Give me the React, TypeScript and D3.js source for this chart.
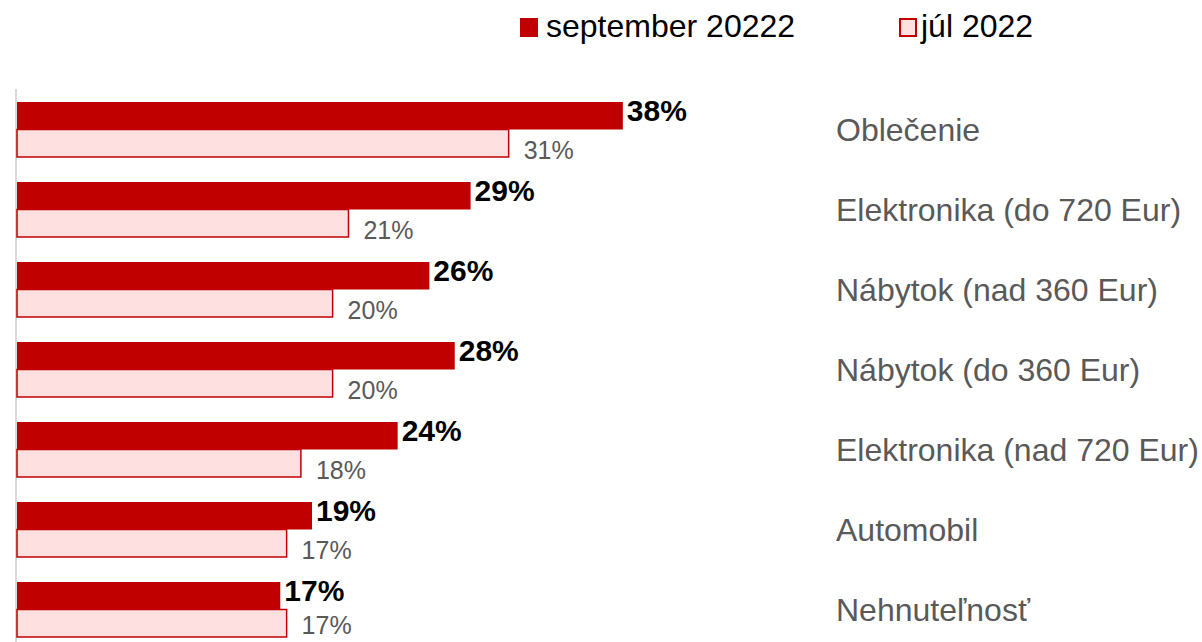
import { useEffect, useRef } from "react";
import * as d3 from "d3";

const categories = [
  "Oblečenie",
  "Elektronika (do 720 Eur)",
  "Nábytok (nad 360 Eur)",
  "Nábytok (do 360 Eur)",
  "Elektronika (nad 720 Eur)",
  "Automobil",
  "Nehnuteľnosť",
];
const seriesNames = ["september 20222", "júl 2022"];
const september = [38.2, 28.6, 26.0, 27.6, 24.0, 18.6, 16.6];
const july = [31.0, 20.9, 19.9, 19.9, 17.9, 17.0, 17.0];

const W = 1202;
const H = 642;
const RED = "#c00000";
const PINK = "#ffe0e1";
const GRAY = "#595959";

export default function App() {
  const ref = useRef<SVGSVGElement>(null);

  useEffect(() => {
    if (!ref.current) return;
    const svg = d3.select(ref.current);
    svg.selectAll("*").remove();

    const x = d3.scaleLinear().domain([0, 50]).range([17, 810]);
    const y = d3.scaleBand<string>().domain(categories).range([88, 648]);
    const sub = d3.scaleBand<string>().domain(seriesNames).range([14, 69]);

    // left axis line
    svg.append("line")
      .attr("x1", 16).attr("x2", 16)
      .attr("y1", 89).attr("y2", H)
      .attr("stroke", "#d9d9d9")
      .attr("stroke-width", 2);

    const g = svg.selectAll(".grp")
      .data(categories)
      .enter()
      .append("g")
      .attr("transform", d => `translate(0, ${y(d)})`);

    // july bars first so the september bar covers the top edge
    g.append("rect")
      .attr("x", x(0))
      .attr("y", sub(seriesNames[1])!)
      .attr("width", (d, i) => x(july[i]) - x(0))
      .attr("height", sub.bandwidth())
      .attr("fill", PINK)
      .attr("stroke", RED)
      .attr("stroke-width", 1.5);

    g.append("rect")
      .attr("x", x(0))
      .attr("y", sub(seriesNames[0])!)
      .attr("width", (d, i) => x(september[i]) - x(0))
      .attr("height", sub.bandwidth())
      .attr("fill", RED);

    g.append("text")
      .attr("x", (d, i) => x(september[i]) + 4)
      .attr("y", sub(seriesNames[0])! + sub.bandwidth() / 2 + 5)
      .text((d, i) => `${Math.round(september[i])}%`)
      .style("font-size", "30px")
      .style("font-weight", "bold")
      .style("fill", "#000");

    // keep the last july label inside the picture
    g.append("text")
      .attr("x", (d, i) => x(july[i]) + 15)
      .attr("y", d => Math.min(sub(seriesNames[1])! + sub.bandwidth() / 2 + 16, H - 8 - y(d)!))
      .text((d, i) => `${Math.round(july[i])}%`)
      .style("font-size", "25px")
      .style("fill", GRAY);

    g.append("text")
      .attr("x", 836)
      .attr("y", y.bandwidth() / 2 + 13)
      .text(d => d)
      .style("font-size", "32px")
      .style("fill", GRAY);

    // legend
    const legendX = [520, 899];
    const lg = svg.selectAll(".legend")
      .data(seriesNames)
      .enter()
      .append("g")
      .attr("transform", (d, i) => `translate(${legendX[i]}, 18)`);

    lg.append("rect")
      .attr("x", (d, i) => (i === 0 ? 0 : 1))
      .attr("y", (d, i) => (i === 0 ? 0 : 1))
      .attr("width", (d, i) => (i === 0 ? 18 : 16))
      .attr("height", (d, i) => (i === 0 ? 19 : 17))
      .attr("fill", (d, i) => (i === 0 ? RED : PINK))
      .attr("stroke", (d, i) => (i === 0 ? "none" : RED))
      .attr("stroke-width", 2);

    lg.append("text")
      .attr("x", (d, i) => (i === 0 ? 26 : 22))
      .attr("y", 19)
      .text(d => d)
      .style("font-size", "32px")
      .style("fill", "#000");
  }, []);

  return (
    <svg
      ref={ref}
      width={W}
      height={H}
      viewBox={`0 0 ${W} ${H}`}
      style={{ position: "absolute", left: 0, top: 0, fontFamily: "'Liberation Sans', Arial, sans-serif", background: "#fff" }}
    />
  );
}
